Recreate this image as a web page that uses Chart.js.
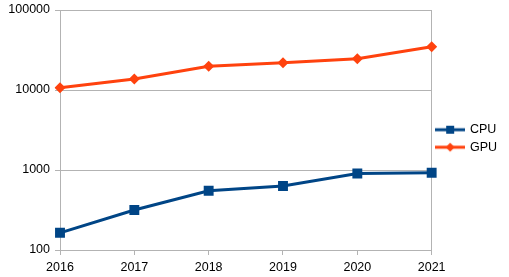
<!DOCTYPE html>
<html>
<head>
<meta charset="utf-8">
<script src="https://cdn.jsdelivr.net/npm/chart.js@4"></script>
<style>
html,body{margin:0;padding:0;background:#fff;}
#wrap{position:relative;width:509px;height:277px;}
</style>
</head>
<body>
<div id="wrap"><canvas id="c" width="509" height="277"></canvas></div>
<script>
const years = ['2016','2017','2018','2019','2020','2021'];
const cpuValues = [164, 316, 551, 631, 905, 925];
const gpuValues = [10700, 13700, 19800, 21900, 24600, 34800];
const yTicks = [100, 1000, 10000, 100000];

const CPU_COLOR = '#004586';
const GPU_COLOR = '#ff420e';
const GRID = '#b3b3b3';
const FONT = {family: '"Liberation Sans", Arial, sans-serif', size: 12.5};

function legendIcon(color, shape) {
  const c = document.createElement('canvas');
  c.width = 30; c.height = 12;
  const g = c.getContext('2d');
  g.strokeStyle = color; g.lineWidth = 3;
  g.beginPath(); g.moveTo(0, 6); g.lineTo(30, 6); g.stroke();
  g.fillStyle = color;
  if (shape === 'rect') {
    g.fillRect(11, 2, 8, 8);
  } else {
    g.beginPath(); g.moveTo(15, 1.5); g.lineTo(19.5, 6); g.lineTo(15, 10.5); g.lineTo(10.5, 6); g.closePath(); g.fill();
  }
  return c;
}
const icons = [legendIcon(CPU_COLOR, 'rect'), legendIcon(GPU_COLOR, 'diamond')];

const legendShift = {
  id: 'legendShift',
  afterLayout(chart) {
    const l = chart.legend;
    if (l) { l.bottom -= 10; l.height -= 10; }
  }
};

new Chart(document.getElementById('c'), {
  type: 'line',
  data: {
    labels: years,
    datasets: [
      {label: 'CPU', data: cpuValues, borderColor: CPU_COLOR, backgroundColor: CPU_COLOR,
       borderWidth: 3, pointStyle: 'rect', pointRadius: 7, pointHoverRadius: 7, pointBorderWidth: 0, tension: 0},
      {label: 'GPU', data: gpuValues, borderColor: GPU_COLOR, backgroundColor: GPU_COLOR,
       borderWidth: 3, pointStyle: 'rectRot', pointRadius: 5.5, pointHoverRadius: 5.5, pointBorderWidth: 0, tension: 0}
    ]
  },
  plugins: [legendShift],
  options: {
    responsive: false,
    animation: false,
    devicePixelRatio: 1,
    layout: {padding: {top: 10, left: 0, right: 2, bottom: 0}},
    plugins: {
      tooltip: {enabled: false},
      legend: {
        position: 'right',
        labels: {
          font: FONT, color: '#000', usePointStyle: true, pointStyleWidth: 27, padding: 5,
          generateLabels: (chart) => chart.data.datasets.map((ds, i) => ({
            text: ds.label, pointStyle: icons[i], fillStyle: ds.borderColor, strokeStyle: ds.borderColor,
            lineWidth: 0, hidden: false, datasetIndex: i, fontColor: '#000'
          }))
        }
      }
    },
    scales: {
      x: {
        type: 'category',
        offset: false,
        grid: {
          color: (ctx) => (ctx.index === 0 || ctx.index === years.length - 1) ? GRID : 'rgba(0,0,0,0)',
          tickColor: GRID, tickLength: 5, drawTicks: true, lineWidth: 1
        },
        border: {display: true, color: GRID},
        ticks: {font: FONT, color: '#000', padding: 5, maxRotation: 0, autoSkip: false},
        afterFit: (s) => { s.height = 27; s.paddingLeft = 0; s.paddingRight = 0; }
      },
      y: {
        type: 'logarithmic',
        min: 100, max: 100000,
        afterBuildTicks: (s) => { s.ticks = yTicks.map(v => ({value: v})); },
        grid: {color: GRID, tickColor: GRID, tickLength: 5, drawTicks: true},
        border: {display: true, color: GRID},
        ticks: {font: FONT, color: '#000', padding: 5, callback: (v) => String(v)},
        afterFit: (s) => { s.width = 60; s.paddingTop = 0; s.paddingBottom = 0; }
      }
    }
  }
});
</script>
</body>
</html>
